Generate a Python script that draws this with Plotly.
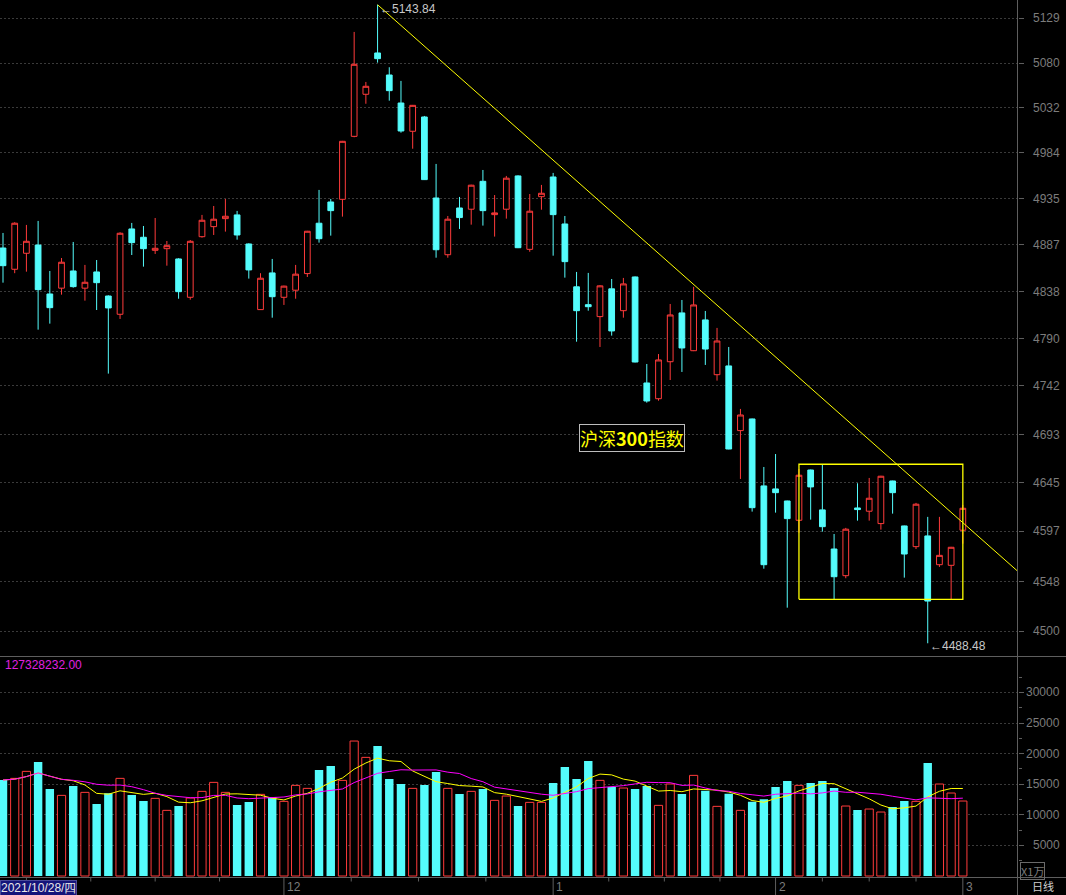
import math
import numpy as np
import pandas as pd
import plotly.graph_objects as go

# ---------------- data ----------------
holidays = ["2022-01-03", "2022-01-31", "2022-02-01", "2022-02-02", "2022-02-03", "2022-02-04"]
dates = [d for d in pd.bdate_range("2021-10-28", "2022-03-01") if d.strftime("%Y-%m-%d") not in holidays]

open_ = [4883.6, 4861.5, 4878.1, 4886.7, 4835.9, 4841.9, 4859.7, 4841.9, 4858.7, 4833.8,
         4815.0, 4903.5, 4894.8, 4881.2, 4882.9, 4872.2, 4832.5, 4895.4, 4905.9, 4914.3,
         4918.2, 4887.8, 4819.8, 4857.7, 4832.5, 4839.8, 4857.0, 4909.5, 4931.8, 4934.6,
         5001.4, 5046.5, 5091.2, 5067.3, 5037.1, 5006.8, 5022.1, 4936.0, 4876.6, 4925.5,
         4924.2, 4953.6, 4918.5, 4924.2, 4959.3, 4882.2, 4937.4, 4958.2, 4908.7, 4843.3,
         4824.9, 4812.6, 4841.2, 4818.7, 4853.5, 4744.9, 4729.0, 4766.5, 4816.4, 4777.7,
         4809.2, 4753.3, 4762.2, 4696.9, 4708.6, 4641.8, 4638.8, 4626.9, 4607.9, 4657.6,
         4618.1, 4579.7, 4553.7, 4620.0, 4616.8, 4604.6, 4646.7, 4602.3, 4582.0, 4592.5,
         4564.4, 4563.8, 4598.1]
high = [4899.3, 4910.5, 4907.7, 4911.9, 4859.7, 4873.2, 4889.9, 4866.0, 4871.1, 4834.5,
        4900.0, 4909.8, 4906.6, 4915.0, 4890.9, 4873.0, 4891.9, 4918.2, 4927.6, 4935.0,
        4922.4, 4888.5, 4857.4, 4872.2, 4844.5, 4866.0, 4901.5, 4944.5, 4935.0, 4996.5,
        5114.1, 5059.8, 5143.84, 5075.7, 5060.9, 5035.0, 5023.2, 4972.0, 4917.1, 4937.1,
        4950.0, 4965.6, 4939.1, 4959.3, 4960.0, 4940.2, 4949.8, 4962.5, 4917.1, 4858.7,
        4857.7, 4845.0, 4851.4, 4852.5, 4854.0, 4764.2, 4774.3, 4825.6, 4829.7, 4843.3,
        4818.4, 4801.0, 4781.5, 4718.7, 4709.0, 4660.6, 4673.5, 4627.2, 4658.6, 4658.0,
        4663.3, 4594.4, 4600.4, 4644.4, 4649.7, 4651.8, 4647.0, 4602.6, 4625.0, 4611.2,
        4611.2, 4581.8, 4623.0]
low = [4847.6, 4857.4, 4859.0, 4799.2, 4805.4, 4835.2, 4842.4, 4829.0, 4819.4, 4754.4,
       4810.2, 4876.3, 4864.2, 4877.4, 4865.2, 4831.0, 4830.0, 4894.4, 4897.2, 4900.7,
       4892.3, 4851.8, 4819.5, 4811.5, 4824.6, 4831.0, 4853.5, 4889.2, 4896.5, 4916.4,
       5000.4, 5036.3, 5080.7, 5039.6, 5005.3, 4988.2, 4955.0, 4873.5, 4873.5, 4903.5,
       4908.0, 4907.0, 4895.5, 4914.3, 4883.5, 4879.7, 4923.7, 4875.6, 4852.8, 4786.9,
       4818.7, 4781.5, 4793.1, 4811.5, 4765.8, 4725.0, 4727.0, 4747.9, 4756.1, 4777.3,
       4763.2, 4747.3, 4678.2, 4648.7, 4616.4, 4560.5, 4615.4, 4522.7, 4595.7, 4608.5,
       4596.7, 4530.8, 4551.2, 4607.5, 4607.5, 4598.7, 4614.4, 4551.8, 4579.7, 4488.48,
       4562.2, 4530.8, 4584.9]
close = [4865.2, 4909.5, 4890.6, 4840.4, 4821.8, 4868.8, 4843.5, 4848.0, 4847.6, 4821.5,
         4899.0, 4889.2, 4882.9, 4883.3, 4886.0, 4838.3, 4890.6, 4912.6, 4913.7, 4916.8,
         4897.2, 4860.8, 4852.2, 4833.1, 4844.0, 4856.4, 4901.1, 4893.3, 4922.7, 4996.1,
         5078.9, 5055.1, 5085.0, 5050.4, 5007.1, 5034.6, 4955.4, 4881.8, 4913.7, 4915.4,
         4949.5, 4922.7, 4920.3, 4956.9, 4883.9, 4922.1, 4941.0, 4918.5, 4869.4, 4818.7,
         4822.8, 4844.3, 4797.9, 4846.3, 4766.2, 4726.7, 4768.3, 4814.3, 4780.5, 4824.6,
         4779.4, 4787.6, 4678.5, 4712.6, 4620.3, 4564.4, 4635.1, 4609.5, 4652.4, 4640.8,
         4601.6, 4552.7, 4599.1, 4618.4, 4629.6, 4651.4, 4635.1, 4574.8, 4623.7, 4529.1,
         4573.5, 4581.4, 4619.7]
volume = [15682, 15954, 17097, 18622, 14211, 13177, 14702, 13667, 11761, 13504,
          15954, 13231, 12251, 12687, 10727, 11435, 12741, 13830, 15300, 13667,
          11598, 12088, 13340, 12905, 12197, 14810, 14320, 17315, 17969, 15627,
          22052, 19384, 21236, 15845, 15028, 14320, 14865, 16988, 14320, 13395,
          13830, 14211, 12360, 13068, 11435, 12033, 12033, 15192, 17805, 15845,
          18785, 15627, 14538, 14375, 14211, 14702, 11543, 15028, 13395, 16444,
          13939, 11380, 13449, 10727, 12142, 12523, 14538, 15518, 14810, 15192,
          15518, 14375, 11435, 10781, 10944, 10454, 11271, 12251, 12197, 18459,
          15028, 13558, 12251]

price_ticks = [4500, 4548, 4597, 4645, 4693, 4742, 4790, 4838, 4887, 4935, 4984, 5032, 5080, 5129]
volume_ticks = [5000, 10000, 15000, 20000, 25000, 30000]
volume_minor = [2500, 7500, 12500, 17500, 22500, 27500, 32500]
title_text = "沪深300指数"
first_date_label = "2021/10/28/四"
vol_info_text = "127328232.00"
period_text = "日线"
unit_text = "X1万"
hi_value, lo_value = 5143.84, 4488.48
trend_end_price = 4558.2

# ---------------- styling / layout constants ----------------
W, H = 1066, 895
AXIS_PX = 1017.5
STRIP_PX = 877.5
RED = "#ff3b3b"
CYAN = "#54fcfc"
GRID = "#3a3a3a"
AXC = "#5e5e5e"
LBL = "#7c7c7c"
FONT = "Liberation Sans, Arial, sans-serif"
CJK = "Noto Sans CJK SC, sans-serif"

n = len(close)
idx = np.arange(n)
XD = AXIS_PX / W
XR = [-0.256, 86.67]
Y_LOG = [3.650919, 3.711729]
VOL_R = [-245, 35784]


def pxx(p):
    return p / W


def pxy(p):
    return 1 - p / H


o = np.array(open_); c = np.array(close); v = np.array(volume)
up = c >= o
vol_s = pd.Series(volume, dtype=float)
ma5 = vol_s.rolling(5, min_periods=1).mean()
ma10 = vol_s.rolling(10, min_periods=1).mean()

fig = go.Figure()
fig.add_trace(go.Candlestick(
    x=idx, open=open_, high=high, low=low, close=close, xaxis="x", yaxis="y",
    increasing=dict(line=dict(color=RED, width=1), fillcolor="#000000"),
    decreasing=dict(line=dict(color=CYAN, width=1), fillcolor=CYAN),
    whiskerwidth=0, hoverinfo="skip", showlegend=False))

# trend line from the top
hi_i = int(np.argmax(high))
fig.add_trace(go.Scatter(x=[hi_i, XR[1]], y=[high[hi_i], trend_end_price], mode="lines",
                         line=dict(color="#ffff00", width=1), xaxis="x", yaxis="y",
                         hoverinfo="skip", showlegend=False))
# consolidation box
bx0, bx1 = 68, 82
by_top = max(high[bx0:bx1 + 1])
by_bot = low[71]
fig.add_trace(go.Scatter(x=[bx0, bx1, bx1, bx0, bx0], y=[by_bot, by_bot, by_top, by_top, by_bot],
                         mode="lines", line=dict(color="#ffff00", width=1.3), xaxis="x", yaxis="y",
                         hoverinfo="skip", showlegend=False))

# volume
fig.add_trace(go.Bar(x=idx[up], y=v[up], width=0.7, xaxis="x2", yaxis="y2",
                     marker=dict(color="#000000", line=dict(color=RED, width=1)),
                     hoverinfo="skip", showlegend=False))
fig.add_trace(go.Bar(x=idx[~up], y=v[~up], width=0.72, xaxis="x2", yaxis="y2",
                     marker=dict(color=CYAN, line=dict(width=0)),
                     hoverinfo="skip", showlegend=False))
fig.add_trace(go.Scatter(x=idx, y=ma5, mode="lines", line=dict(color="#ffff00", width=1),
                         xaxis="x2", yaxis="y2", hoverinfo="skip", showlegend=False))
fig.add_trace(go.Scatter(x=idx, y=ma10, mode="lines", line=dict(color="#ff00ff", width=1),
                         xaxis="x2", yaxis="y2", hoverinfo="skip", showlegend=False))

ann = []
for t in price_ticks:
    ann.append(dict(x=pxx(1062), y=math.log10(t), xref="paper", yref="y", text=str(t),
                    xanchor="right", yanchor="middle", showarrow=False,
                    font=dict(family=FONT, size=12, color=LBL)))
for t in volume_ticks:
    ann.append(dict(x=pxx(1062), y=t, xref="paper", yref="y2", text=str(t),
                    xanchor="right", yanchor="middle", showarrow=False,
                    font=dict(family=FONT, size=12, color=LBL)))

ann.append(dict(x=hi_i, y=math.log10(hi_value), xref="x", yref="y", text="←" + f"{hi_value:.2f}",
                xanchor="left", yanchor="middle", yshift=-4, showarrow=False,
                font=dict(family=FONT, size=12, color="#c8c8c8")))
lo_i = int(np.argmin(low))
ann.append(dict(x=lo_i, y=math.log10(lo_value), xref="x", yref="y", text="←" + f"{lo_value:.2f}",
                xanchor="left", yanchor="middle", yshift=-3, showarrow=False,
                font=dict(family=FONT, size=12, color="#c8c8c8")))

ann.append(dict(x=pxx(632), y=pxy(438.5), xref="paper", yref="paper",
                text="沪深<b>300</b>指数", xanchor="center", yanchor="middle", showarrow=False,
                bgcolor="#000000", bordercolor="#bdbdbd", borderwidth=1, borderpad=0,
                font=dict(family=CJK, size=18, color="#ffff00")))

ann.append(dict(x=pxx(3), y=pxy(665), xref="paper", yref="paper", text=vol_info_text,
                xanchor="left", yanchor="middle", showarrow=False,
                font=dict(family=FONT, size=12, color="#e020e0")))

# month labels on the date strip
month_starts = [i for i in range(1, n) if dates[i].month != dates[i - 1].month]
shapes = []
for i in month_starts:
    shapes.append(dict(type="line", xref="x2", yref="paper", x0=i, x1=i, y0=0, y1=pxy(STRIP_PX),
                       line=dict(color=AXC, width=1)))
    if i > 5:
        ann.append(dict(x=i, y=pxy(886.5), xref="x2", yref="paper", text=str(dates[i].month),
                        xanchor="left", yanchor="middle", xshift=1, showarrow=False,
                        font=dict(family=FONT, size=12, color=LBL)))
# quarter-month minor ticks
for a, b in zip(month_starts[:-1], month_starts[1:]):
    for k in (1, 2, 3):
        xm = a + (b - a) * k / 4
        shapes.append(dict(type="line", xref="x2", yref="paper", x0=xm, x1=xm,
                           y0=pxy(STRIP_PX + 4), y1=pxy(STRIP_PX),
                           line=dict(color=AXC, width=1)))

ann.append(dict(x=0, y=pxy(888), xref="paper", yref="paper", text=first_date_label,
                xanchor="left", yanchor="middle", showarrow=False, bgcolor="#14147a",
                bordercolor="#4a4a9a", borderwidth=1, borderpad=0,
                font=dict(family=FONT, size=12, color="#e8e8e8")))
ann.append(dict(x=pxx(1043), y=pxy(886), xref="paper", yref="paper", text=period_text,
                xanchor="center", yanchor="middle", showarrow=False,
                font=dict(family=CJK, size=11, color="#d0d0d0")))
ann.append(dict(x=pxx(1019.5), y=pxy(871), xref="paper", yref="paper", text=unit_text,
                xanchor="left", yanchor="middle", showarrow=False,
                bordercolor="#6a6a6a", borderwidth=1, borderpad=0,
                font=dict(family=CJK, size=11, color=LBL)))

# frame lines
shapes += [
    dict(type="line", xref="paper", yref="paper", x0=0, x1=1, y0=pxy(656.5), y1=pxy(656.5),
         line=dict(color=AXC, width=1)),
    dict(type="line", xref="paper", yref="paper", x0=0, x1=1, y0=pxy(STRIP_PX), y1=pxy(STRIP_PX),
         line=dict(color=AXC, width=1)),
    dict(type="line", xref="paper", yref="paper", x0=XD, x1=XD, y0=0, y1=1,
         line=dict(color=AXC, width=1)),
]

fig.update_layout(
    width=W, height=H, margin=dict(l=0, r=0, t=0, b=0),
    paper_bgcolor="#000000", plot_bgcolor="#000000",
    showlegend=False, barmode="overlay", hovermode=False,
    xaxis=dict(domain=[0, XD], range=XR, showticklabels=False, showgrid=False, zeroline=False,
               rangeslider=dict(visible=False), anchor="y", fixedrange=True),
    yaxis=dict(domain=[pxy(656), 1], type="log", range=Y_LOG, side="right", anchor="x",
               tickvals=price_ticks, showticklabels=False, ticks="outside", ticklen=5,
               tickcolor=AXC, showgrid=True, gridcolor=GRID, griddash="2px,2px", gridwidth=1,
               zeroline=False, showline=False, fixedrange=True),
    xaxis2=dict(domain=[0, XD], range=XR, showticklabels=False, showgrid=False, zeroline=False,
                anchor="y2", fixedrange=True),
    yaxis2=dict(domain=[pxy(STRIP_PX), pxy(657)], range=VOL_R, side="right", anchor="x2",
                tickvals=volume_ticks, showticklabels=False, ticks="outside", ticklen=5,
                tickcolor=AXC, showgrid=True, gridcolor=GRID, griddash="2px,2px", gridwidth=1,
                zeroline=False, showline=False, fixedrange=True,
                minor=dict(tickvals=volume_minor, ticks="outside", ticklen=3, tickcolor=AXC,
                           showgrid=False)),
    annotations=ann, shapes=shapes,
)

fig.write_html("out.html", config={"displayModeBar": False},
               post_script="document.body.style.margin='0';document.body.style.background='#000';")
